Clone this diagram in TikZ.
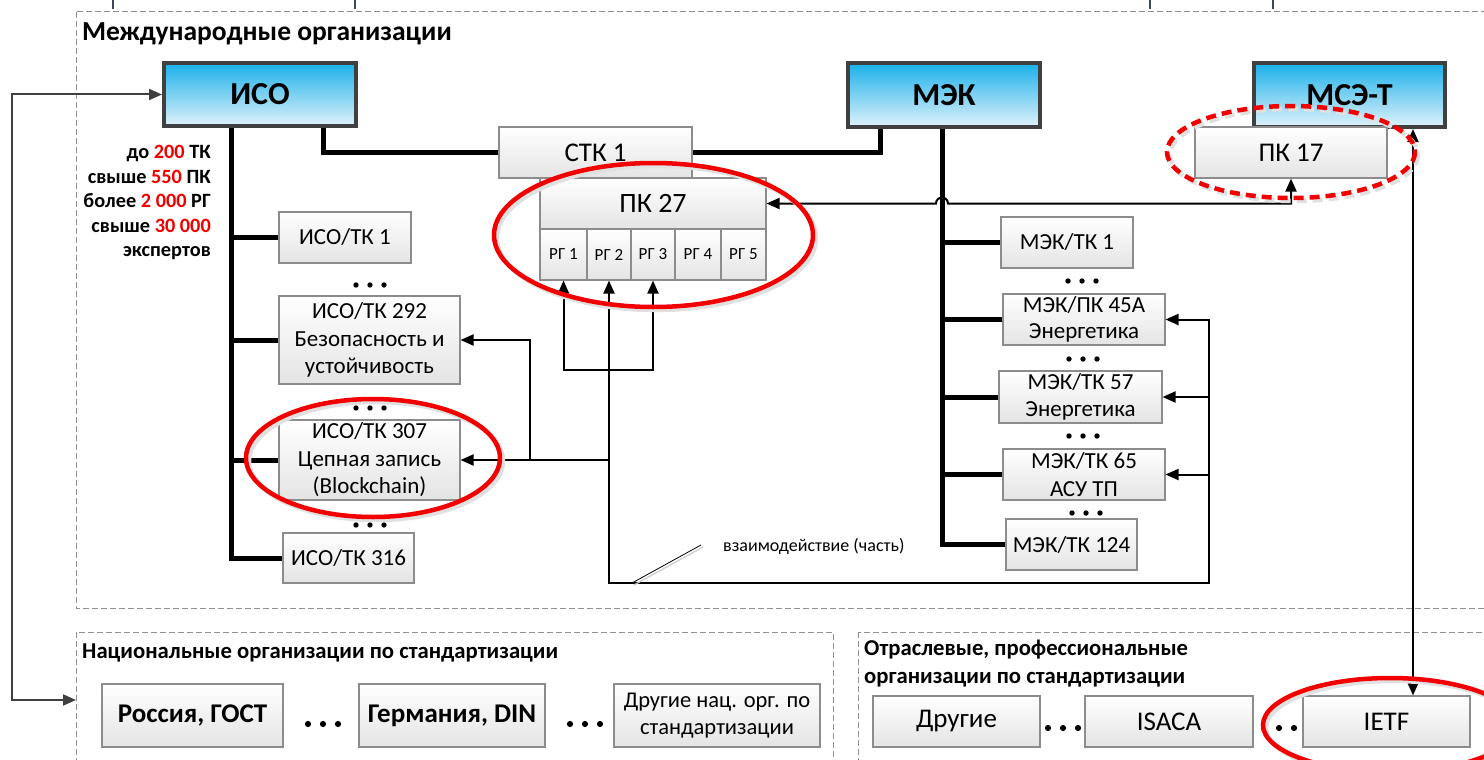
\documentclass[tikz,border=0pt]{standalone}
\usepackage{fontspec}
\setmainfont{Carlito}
\usetikzlibrary{arrows.meta,calc}
\definecolor{orgtop}{HTML}{1AB0EA}
\definecolor{orgbot}{HTML}{E0F2FA}
\definecolor{orgline}{HTML}{404040}
\definecolor{boxline}{HTML}{8C8C8C}
\definecolor{boxbot}{HTML}{E4E4E4}
\definecolor{hl}{HTML}{F20000}
\definecolor{framecol}{HTML}{8F8F8F}
\definecolor{tickcol}{HTML}{3A4859}
\newcommand\fz[2]{\fontsize{#1}{#2}\selectfont}
\newcommand\rd[1]{\textcolor{hl}{#1}}
\newcommand\bx[7]{\node[#1, minimum width={#4-#2}, minimum height={#5-#3}] (#6) at ({(#2+#4)/2},{(#3+#5)/2}) {#7};}
\newcommand\tridots[4]{\fill (#1-#3,#2) circle (#4) (#1,#2) circle (#4) (#1+#3,#2) circle (#4);}
\tikzset{
  org/.style={draw=orgline, line width=4pt, top color=orgtop, bottom color=orgbot, font=\bfseries\fz{32}{38}, inner sep=0pt},
  box/.style={draw=boxline, line width=1.1pt, top color=white, bottom color=boxbot, inner sep=0pt, align=center, font=\fz{23}{27}},
  tree/.style={line width=5pt, black},
  lnk/.style={line width=2pt, black},
  arrowone/.style={-{Triangle[length=13pt,width=11pt]}},
  arrowtwo/.style={{Triangle[length=13pt,width=11pt]}-{Triangle[length=13pt,width=11pt]}},
  ring/.style={draw=hl, line width=4.5pt},
  ringshadow/.style={draw=black!12, line width=4.5pt},
  dashframe/.style={draw=framecol, line width=1pt, dash pattern=on 6pt off 3pt},
  heading/.style={font=\bfseries\fz{22.7}{27}, anchor=base west, inner sep=0pt},
}
\begin{document}
\begin{tikzpicture}[x=1pt,y=-1pt]
\useasboundingbox (0,0) rectangle (1484,760);
\clip (0,0) rectangle (1484,760);
\fill[white] (0,0) rectangle (1484,760);
% top ticks
\foreach \t in {113,355,1150,1273} \draw[tickcol, line width=2.5pt] (\t,0) -- (\t,9);
% frames
\draw[dashframe] (76,12) rectangle (1495,608);
\draw[dashframe] (76,632) rectangle (833,775);
\draw[dashframe] (858,632) rectangle (1495,775);
\node[heading, font=\bfseries\fz{27.5}{32}] (hIntl) at (82,41) {Международные организации};
\node[heading] (hNat) at (82,658) {Национальные организации по стандартизации};
\node[heading] (hIndA) at (864,655) {Отраслевые, профессиональные};
\node[heading] (hIndB) at (864,683) {организации по стандартизации};
% org boxes
\bx{org}{164}{63}{356}{126}{iso}{ИСО}
\bx{org}{848}{63}{1040}{127}{iec}{МЭК}
\bx{org}{1254}{63}{1445}{127}{itu}{МСЭ-Т}
% committees
\bx{box,font=\fz{27}{30}}{499}{127}{692}{178}{stk}{СТК 1}
\bx{box,font=\fz{28}{30}}{540}{178}{766}{229}{pk27}{ПК 27}
\bx{box,font=\fz{17}{20}}{540}{229}{587}{280}{rg1}{РГ 1}
\bx{box,font=\fz{17}{20}}{587}{229}{631}{280}{rg2}{РГ 2}
\bx{box,font=\fz{17}{20}}{631}{229}{675}{280}{rg3}{РГ 3}
\bx{box,font=\fz{17}{20}}{675}{229}{721}{280}{rg4}{РГ 4}
\bx{box,font=\fz{17}{20}}{721}{229}{766}{280}{rg5}{РГ 5}
\bx{box,font=\fz{27}{30}}{1195}{127}{1387}{178}{pk17}{ПК 17}
% ISO TCs
\bx{box}{279}{212}{411}{263}{isotk1}{ИСО/ТК 1}
\bx{box,font=\fz{23}{27.5}}{279}{296}{460}{384}{isotk292}{ИСО/ТК 292\\Безопасность и\\устойчивость}
\bx{box,font=\fz{23}{27.5}}{279}{420}{460}{500}{isotk307}{ИСО/ТК 307\\Цепная запись\\(Blockchain)}
\bx{box}{283}{533}{414}{583}{isotk316}{ИСО/ТК 316}
% IEC TCs
\bx{box}{1001}{217}{1133}{268}{iectk1}{МЭК/ТК 1}
\bx{box,font=\fz{23}{26}}{1003}{294}{1165}{345}{iec45}{МЭК/ПК 45А\\Энергетика}
\bx{box,font=\fz{23}{27}}{999}{371}{1162}{423}{iec57}{МЭК/ТК 57\\Энергетика}
\bx{box,font=\fz{23}{28}}{1003}{449}{1165}{500}{iec65}{МЭК/ТК 65\\АСУ ТП}
\bx{box}{1006}{519}{1137}{570}{iec124}{МЭК/ТК 124}
% national
\bx{box,font=\bfseries\fz{27}{30}}{102}{684}{283}{747}{rus}{Россия, ГОСТ}
\bx{box,font=\bfseries\fz{27}{30}}{359}{684}{545}{747}{ger}{Германия, DIN}
\bx{box,font=\fz{22.5}{27}}{614}{684}{820}{747}{othnat}{Другие нац. орг. по\\стандартизации}
% industry
\bx{box,font=\fz{27}{30}}{873}{696}{1040}{747}{oth}{Другие}
\bx{box,font=\fz{27}{30}}{1085}{696}{1253}{747}{isaca}{ISACA}
\bx{box,font=\fz{27}{30}}{1303}{696}{1470}{747}{ietf}{IETF}
% stats
\node[anchor=north east, align=right, inner sep=0pt, font=\bfseries\fz{20.3}{24.5}] (stats) at (211,145)
 {до \rd{200} ТК\\свыше \rd{550} ПК\\более \rd{2 000} РГ\\свыше \rd{30 000}\\экспертов};
% dots
\tridots{370}{285}{14}{2.7}
\tridots{370}{408}{14}{2.7}
\tridots{370}{525}{14}{2.7}
\tridots{1082}{281}{14}{2.7}
\tridots{1083}{359}{14}{2.7}
\tridots{1083}{436}{14}{2.7}
\tridots{1086}{513}{14}{2.7}
\tridots{323}{724}{15}{3.1}
\tridots{585}{724}{15}{3.1}
\tridots{1063}{728}{15}{3.1}
\tridots{1279}{728}{15}{3.1}
% tree lines
\coordinate (isoX) at (231,0);
\coordinate (isoB) at (323,0);
\coordinate (iecX) at (942,0);
\coordinate (iecB) at (880,0);
\draw[tree] (isoX |- iso.south) -- (isoX |- isotk316.west) -- (isotk316.west);
\foreach \n in {isotk1,isotk292,isotk307} \draw[tree] (isoX |- \n.west) -- (\n.west);
\draw[tree] (isoB |- iso.south) -- (isoB |- stk.west) -- (stk.west);
\draw[tree] (iecB |- iec.south) -- (iecB |- stk.east) -- (stk.east);
\draw[tree] (iecX |- iec.south) -- (iecX |- iec124.west) -- (iec124.west);
\foreach \n in {iectk1,iec45,iec57,iec65} \draw[tree] (iecX |- \n.west) -- (\n.west);
% links
\coordinate (netY) at (0,583);
\coordinate (rightX) at (1209,0);
\coordinate (midX) at (530,0);
\coordinate (brY) at (0,370);
\coordinate (hopL) at (936,0);
\coordinate (ituX) at (1413,0);
\coordinate (leftX) at (12,0);
\coordinate (natL) at (76,700);
\draw[lnk, arrowtwo] (rg2.south) -- (rg2.south |- netY) -- (rightX |- netY) -- (rightX |- iec45.east) -- (iec45.east);
\draw[lnk, arrowone] (rightX |- iec57.east) -- (iec57.east);
\draw[lnk, arrowone] (rightX |- iec65.east) -- (iec65.east);
\draw[lnk, arrowone] (rg2.south |- isotk307.east) -- (isotk307.east);
\draw[lnk, arrowone] (midX |- isotk307.east) -- (midX |- isotk292.east) -- (isotk292.east);
\draw[lnk, arrowtwo] (rg1.south) -- (rg1.south |- brY) -- (rg3.south |- brY) -- (rg3.south);
\draw[lnk, arrowtwo] (pk27.east) -- (hopL |- pk27.east) arc[start angle=180, end angle=360, radius=6] -- (pk17.south |- pk27.east) -- (pk17.south);
\draw[lnk, arrowtwo] (ituX |- itu.south) -- (ituX |- ietf.north);
\draw[lnk, draw=orgline, arrowtwo] (iso.west) -- (leftX |- iso.west) -- (leftX |- natL) -- (natL);
% leader
\draw[black!20, line width=1.2pt] (634,585) -- (703,547);
\draw[black, line width=0.8pt] (632,583) -- (701,545);
\node[anchor=west, inner sep=0pt, font=\fz{18}{20}] (lbl) at (723,546) {взаимодействие (часть)};
% rings
\draw[ringshadow] (656.5,238) ellipse [x radius=159.5, y radius=72];
\draw[ring] (653.5,235) ellipse [x radius=159.5, y radius=72];
\draw[ringshadow] (376,461) ellipse [x radius=127, y radius=59];
\draw[ring] (373,458) ellipse [x radius=127, y radius=59];
\draw[ringshadow] (1393,728) ellipse [x radius=127, y radius=47];
\draw[ring] (1390,725) ellipse [x radius=127, y radius=47];
\draw[ringshadow, dash pattern=on 10pt off 6pt] (1294,155) ellipse [x radius=124, y radius=46];
\draw[ring, dash pattern=on 10pt off 6pt] (1291,152) ellipse [x radius=124, y radius=46];
\end{tikzpicture}
\end{document}
